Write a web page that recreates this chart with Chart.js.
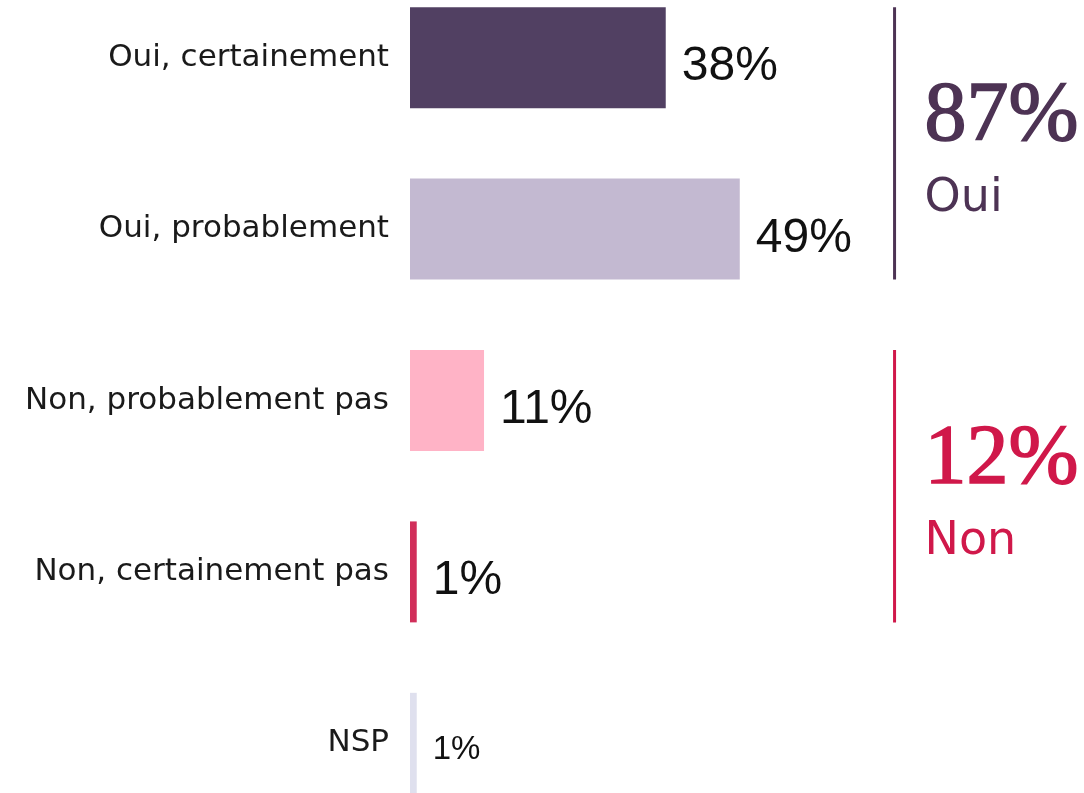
<!DOCTYPE html>
<html>
<head>
<meta charset="utf-8">
<script src="https://cdn.jsdelivr.net/npm/chart.js@4"></script>
<style>
  html, body { margin: 0; padding: 0; background: #ffffff; overflow: hidden; width: 1084px; height: 793px; }
  #wrap { position: absolute; left: 0; top: -28px; width: 1084px; height: 857px; }
</style>
</head>
<body>
<div id="wrap"><canvas id="c" width="1084" height="857"></canvas></div>
<script>
const categories = ['Oui, certainement', 'Oui, probablement', 'Non, probablement pas', 'Non, certainement pas', 'NSP'];
const values = [38, 49, 11, 1, 1];
const valueLabels = ['38%', '49%', '11%', '1%', '1%'];
const barColors = ['#514062', '#c3b9d1', '#ffb3c6', '#d12e5a', '#dfe0ee'];
const groupTotals = ['87%', '12%'];
const groupNames = ['Oui', 'Non'];
const groupFirst = [0, 2];
const groupLast = [1, 3];
const groupColors = ['#4d3354', '#d0184a'];
const groupLineValue = 72;

const labelPlugin = {
  id: 'labels',
  afterDatasetsDraw(chart) {
    const ctx = chart.ctx;
    const meta = chart.getDatasetMeta(0);
    ctx.save();
    meta.data.forEach((el, i) => {
      const size = i === 4 ? 33 : 48;
      ctx.font = size + 'px "Liberation Sans", Arial, sans-serif';
      ctx.fillStyle = '#111111';
      ctx.textAlign = 'left';
      ctx.textBaseline = 'alphabetic';
      ctx.fillText(valueLabels[i], el.x + 16, el.y + size * 0.47);
    });
    const xs = chart.scales.x;
    const lx = xs.getPixelForValue(groupLineValue);
    groupTotals.forEach((t, g) => {
      const a = meta.data[groupFirst[g]];
      const b = meta.data[groupLast[g]];
      const top = a.y - a.height / 2;
      const bot = b.y + b.height / 2;
      ctx.strokeStyle = groupColors[g];
      ctx.lineWidth = 3;
      ctx.beginPath();
      ctx.moveTo(lx, top);
      ctx.lineTo(lx, bot);
      ctx.stroke();
      const mid = (top + bot) / 2;
      ctx.fillStyle = groupColors[g];
      ctx.font = '84px "Liberation Serif", "Times New Roman", serif';
      ctx.lineWidth = 1.6;
      ctx.fillText(t, lx + 30, mid - 3);
      ctx.strokeText(t, lx + 30, mid - 3);
      ctx.font = '46px "DejaVu Sans", sans-serif';
      ctx.fillText(groupNames[g], lx + 30, mid + 68);
    });
    ctx.restore();
  }
};

new Chart(document.getElementById('c'), {
  type: 'bar',
  data: {
    labels: categories,
    datasets: [{
      data: values,
      backgroundColor: barColors,
      borderWidth: 0,
      barPercentage: 0.589,
      categoryPercentage: 1
    }]
  },
  options: {
    indexAxis: 'y',
    responsive: false,
    animation: false,
    devicePixelRatio: 1,
    layout: { padding: { left: 0, right: 1, top: 0, bottom: 0 } },
    plugins: { legend: { display: false }, tooltip: { enabled: false } },
    scales: {
      x: { display: false, min: 0, max: 100 },
      y: {
        grid: { display: false, drawTicks: false },
        border: { display: false },
        ticks: {
          padding: 21,
          color: '#1a1a1a',
          font: { family: '"DejaVu Sans", sans-serif', size: 31 }
        },
        afterFit(s) { s.width = 410; s.paddingTop = 0; s.paddingBottom = 0; }
      }
    }
  },
  plugins: [labelPlugin]
});
</script>
</body>
</html>
